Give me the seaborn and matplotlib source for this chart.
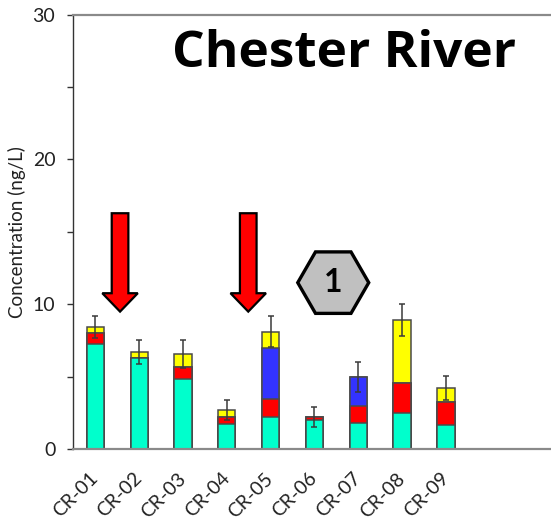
import numpy as np
import pandas as pd
import matplotlib
matplotlib.use("Agg")
import matplotlib.pyplot as plt
from matplotlib.patches import FancyArrow, RegularPolygon
from matplotlib.transforms import ScaledTranslation
import seaborn as sns

# Sampling sites along the Chester River
sites = ["CR-01", "CR-02", "CR-03", "CR-04", "CR-05", "CR-06", "CR-07", "CR-08", "CR-09"]

# Concentration of each compound group (ng/L), stacked bottom to top
teal_vals = [7.27, 6.32, 4.85, 1.77, 2.23, 2.00, 1.82, 2.48, 1.66]
red_vals = [0.73, 0.00, 0.81, 0.46, 1.22, 0.21, 1.17, 2.12, 1.63]
blue_vals = [0.00, 0.00, 0.00, 0.00, 3.52, 0.00, 2.00, 0.00, 0.00]
yellow_vals = [0.42, 0.37, 0.94, 0.50, 1.13, 0.00, 0.00, 4.32, 0.94]

# Uncertainty on the total concentration (ng/L)
total_err = [0.76, 0.82, 0.97, 0.69, 1.07, 0.69, 1.03, 1.09, 0.80]

yticks = [0, 10, 20, 30]
title_text = "Chester River"
ylabel_text = "Concentration (ng/L)"
badge_text = "1"

sns.set_theme(style="white")
plt.rcParams["font.family"] = ["Lato", "DejaVu Sans"]

df = pd.DataFrame({
    "site": sites,
    "teal": teal_vals,
    "red": red_vals,
    "blue": blue_vals,
    "yellow": yellow_vals,
})
df["c_teal"] = df["teal"]
df["c_red"] = df["c_teal"] + df["red"]
df["c_blue"] = df["c_red"] + df["blue"]
df["c_yellow"] = df["c_blue"] + df["yellow"]

fig = plt.figure(figsize=(5.51, 5.20), dpi=100)
ax = fig.add_axes([0.132, 0.136, 0.868, 0.836])

edge = "#4a4a4a"
layers = [("c_yellow", "#FFFF00"), ("c_blue", "#3333FF"),
          ("c_red", "#FF0000"), ("c_teal", "#00FFCC")]
for col, colr in layers:
    sns.barplot(data=df, x="site", y=col, order=sites, color=colr,
                saturation=1, width=0.395, edgecolor=edge, linewidth=1.1,
                errorbar=None, ax=ax)

ax.errorbar(np.arange(len(sites)), df["c_yellow"], yerr=total_err,
            fmt="none", ecolor="#3a3a3a", elinewidth=1.1, capsize=2.2,
            capthick=1.1, zorder=5)

ax.set_xlim(-0.516, 10.40)
ax.set_ylim(0, 30)
ax.set_yticks(yticks)
ax.set_yticks([5, 15, 25], minor=True)
ax.set_xlabel("")
ax.set_ylabel(ylabel_text, fontsize=13.5, color="#222222", labelpad=5)

ax.tick_params(axis="y", which="major", left=True, length=4.5, width=1,
               color="#333333", labelsize=14, pad=8, labelcolor="#222222")
ax.tick_params(axis="y", which="minor", left=True, length=4, width=1,
               color="#333333")
ax.tick_params(axis="x", bottom=False, labelsize=14, pad=13,
               labelcolor="#222222")
for lab in ax.get_xticklabels():
    lab.set_rotation(45)
    lab.set_ha("right")
    lab.set_rotation_mode("anchor")
    lab.set_va("center")

ax.spines["right"].set_visible(False)
ax.spines["left"].set_color("#333333")
ax.spines["left"].set_linewidth(1.0)
for s in ("top", "bottom"):
    ax.spines[s].set_color("#8a8a8a")
    ax.spines[s].set_linewidth(1.6)

# Arrows pointing at two sites of interest
for xc in (0.564, 3.49):
    ax.add_patch(FancyArrow(xc, 16.29, 0, -6.79, width=0.38, head_width=0.81,
                            head_length=1.27, length_includes_head=True,
                            facecolor="#FF0000", edgecolor="black",
                            linewidth=1.6, zorder=6))

# Numbered hexagon badge
hx, hy = 5.43, 11.5
hex_tr = fig.dpi_scale_trans + ScaledTranslation(hx, hy, ax.transData)
ax.add_patch(RegularPolygon((0, 0), numVertices=6, radius=0.355,
                            orientation=np.pi / 6, facecolor="#C0C0C0",
                            edgecolor="black", linewidth=2.4,
                            transform=hex_tr, zorder=6, clip_on=False))
ax.text(hx, hy, badge_text, ha="center", va="center", fontsize=23,
        fontweight="bold", color="black", zorder=7)

fig.text(0.624, 0.872, title_text, ha="center", va="baseline",
         fontsize=37, fontweight="bold", color="black",
         family=["Open Sans", "DejaVu Sans"])

fig.savefig("out.png", dpi=100)
